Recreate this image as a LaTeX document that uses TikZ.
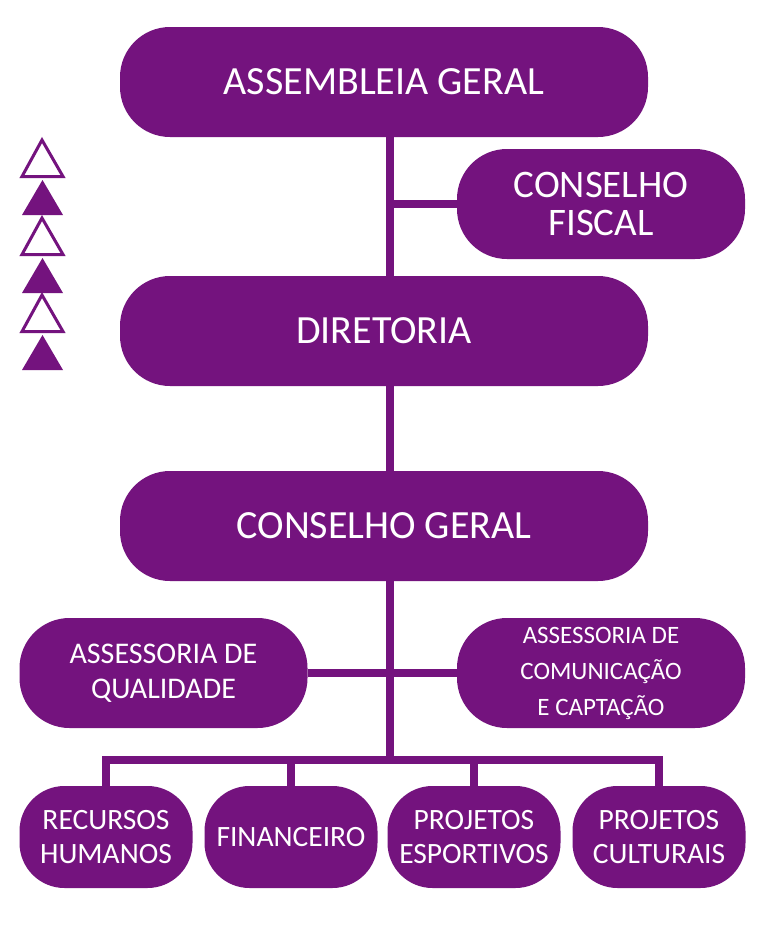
\documentclass[tikz,border=0pt]{standalone}
\usepackage{fontspec}
\setmainfont{Carlito}
\usetikzlibrary{backgrounds}
\definecolor{roxo}{RGB}{116,19,126}
\begin{document}
\begin{tikzpicture}[x=1pt,y=-1pt,
  box/.style={fill=roxo,text=white,rounded corners=50pt,align=center,inner sep=0pt},
  bigbox/.style={box,minimum width=528pt,minimum height=110pt,font=\fontsize{40}{36}\selectfont},
  sidebox/.style={box,minimum width=288pt,minimum height=110pt},
  smallbox/.style={box,rounded corners=45pt,minimum width=173pt,minimum height=102pt,font=\fontsize{29.5}{34}\selectfont},
  conn/.style={draw=roxo,line width=7.5pt},
  tri/.style={draw=roxo,line width=3pt,line join=miter},
  trif/.style={fill=roxo}]
\useasboundingbox (0,0) rectangle (768,938);
% main boxes
\node[bigbox] (ag) at (384,82) {ASSEMBLEIA GERAL};
\node[sidebox,font=\fontsize{39}{38}\selectfont] (cf) at (601,204) {CONSELHO\\FISCAL};
\node[bigbox] (dir) at (384,331) {DIRETORIA};
\node[bigbox] (cg) at (384,526) {CONSELHO GERAL};
\node[sidebox,font=\fontsize{30}{35}\selectfont] (aq) at (163.5,673) {ASSESSORIA DE\\QUALIDADE};
\node[sidebox,font=\fontsize{25}{36}\selectfont] (acc) at (601,673) {ASSESSORIA DE\\COMUNICAÇÃO\\E CAPTAÇÃO};
\node[smallbox] (rh) at (106,837) {RECURSOS\\HUMANOS};
\node[smallbox] (fin) at (291,837) {FINANCEIRO};
\node[smallbox] (pe) at (474,837) {PROJETOS\\ESPORTIVOS};
\node[smallbox] (pc) at (659,837) {PROJETOS\\CULTURAIS};
\coordinate (bus) at (390,760);
\coordinate (jcf) at (bus |- cf.west);
% connectors
\begin{scope}[on background layer]
\fill[white] (0,0) rectangle (768,938);
\draw[conn] (ag.south -| bus) -- (bus);
\draw[conn] (jcf) -- (cf.west);
\draw[conn] (aq.east) -- (acc.west);
\draw[conn,line cap=rect] (rh.north |- bus) -- (pc.north |- bus);
\draw[conn] (rh.north |- bus) -- (rh.north);
\draw[conn] (fin.north |- bus) -- (fin.north);
\draw[conn] (pe.north |- bus) -- (pe.north);
\draw[conn] (pc.north |- bus) -- (pc.north);
\end{scope}
% triangles
\draw[tri] (22,176.5) -- (42,140) -- (63,176.5) -- cycle;
\fill[trif] (22,215) -- (42.5,180) -- (63,215) -- cycle;
\draw[tri] (22,254.5) -- (42,218) -- (63,254.5) -- cycle;
\fill[trif] (22,293) -- (42.5,258) -- (63,293) -- cycle;
\draw[tri] (22,331.5) -- (42,295) -- (63,331.5) -- cycle;
\fill[trif] (22,370) -- (42.5,335) -- (63,370) -- cycle;
\end{tikzpicture}
\end{document}
